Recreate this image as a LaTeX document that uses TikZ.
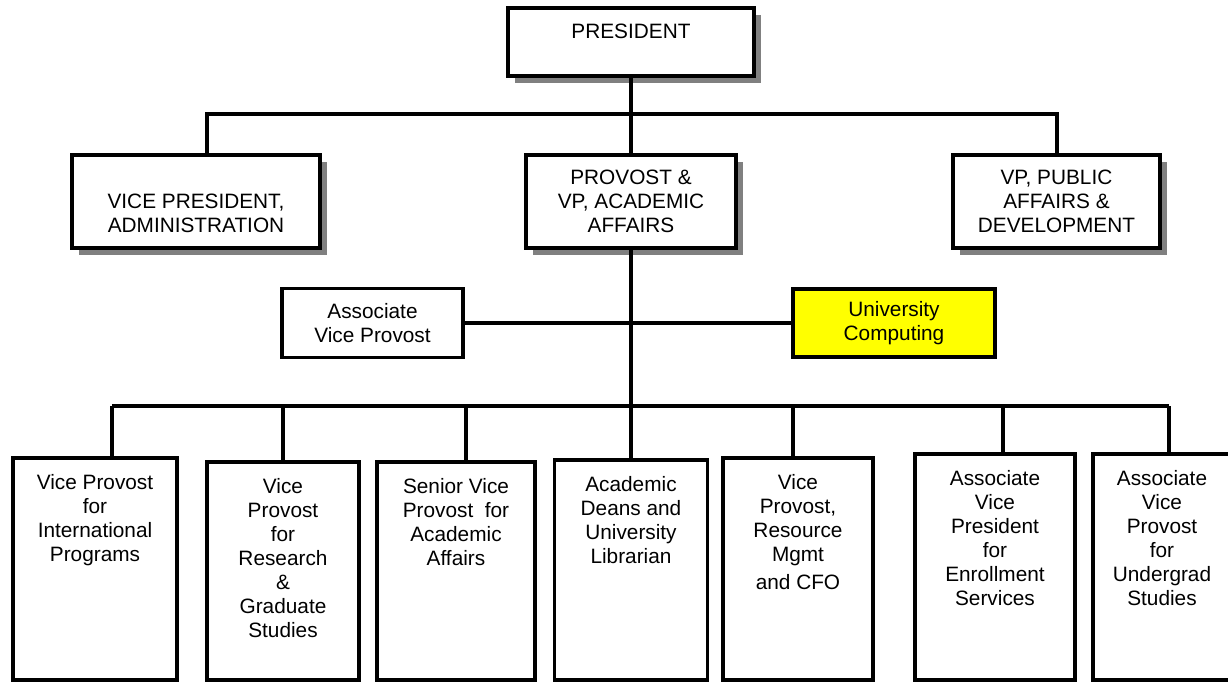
\documentclass[tikz,border=0pt]{standalone}
\usepackage{fontspec}
\setmainfont{Liberation Sans}
\usetikzlibrary{shadows}

\definecolor{shadowgray}{HTML}{808080}
\definecolor{ucyellow}{HTML}{FFFF00}
\newcommand{\orgfont}{\fontsize{10.4}{12}\selectfont}

\tikzset{
  unitbox/.style={draw, line width=1.6pt, fill=white, inner sep=0pt, align=center, font=\orgfont},
  headbox/.style={unitbox, general shadow={fill=shadowgray, shadow xshift=3.5pt, shadow yshift=-3.5pt}},
  toptext/.style={anchor=north, yshift=-9pt, inner sep=0pt, align=center, font=\orgfont},
  midtext/.style={inner sep=0pt, align=center, font=\orgfont},
  link/.style={line width=1.6pt},
}

\begin{document}
\begin{tikzpicture}[x=0.5pt, y=-0.5pt]
    \useasboundingbox (0,0) rectangle (1228,682);

    % Top level
    \node[headbox, minimum width=123pt, minimum height=34pt,
          label={[toptext, yshift=0.5pt]north:PRESIDENT}] (pres) at (631,42) {};

    % Vice presidents
    \node[headbox, minimum width=124pt, minimum height=46.5pt,
          label={[midtext, yshift=-5.75pt]center:{VICE PRESIDENT,\\ADMINISTRATION}}] (vpadm) at (196,201.5) {};
    \node[headbox, minimum width=105pt, minimum height=46.5pt] (prov) at (631,201.5) {PROVOST \&\\VP, ACADEMIC\\AFFAIRS};
    \node[headbox, minimum width=103.5pt, minimum height=46.5pt] (vppub) at (1056.5,201.5) {VP, PUBLIC\\AFFAIRS \&\\DEVELOPMENT};

    % Staff level
    \node[unitbox, minimum width=90.5pt, minimum height=34.5pt] (avp) at (372.5,323) {Associate\\Vice Provost};
    \node[unitbox, fill=ucyellow, minimum width=101pt, minimum height=34pt] (uc) at (894,323) {University\\Computing};

    % Units reporting to the provost
    \node[unitbox, minimum width=82pt, minimum height=111pt,
          label={[toptext]north:{Vice Provost\\for\\International\\Programs}}] (intl) at (95,569) {};
    \node[unitbox, minimum width=76pt, minimum height=109pt,
          label={[toptext]north:{Vice\\Provost\\for\\Research\\\&\\Graduate\\Studies}}] (resgrad) at (283,571) {};
    \node[unitbox, minimum width=79pt, minimum height=109pt,
          label={[toptext]north:{Senior Vice\\Provost~ for\\Academic\\Affairs}}] (senior) at (456,571) {};
    \node[unitbox, minimum width=76.5pt, minimum height=110pt,
          label={[toptext]north:{Academic\\Deans and\\University\\Librarian}}] (deans) at (631,570) {};
    \node[unitbox, minimum width=75pt, minimum height=111pt,
          label={[toptext]north:{Vice\\Provost,\\Resource\\Mgmt\\[2pt]and CFO}}] (resmgmt) at (798,569) {};
    \node[unitbox, minimum width=80pt, minimum height=113pt,
          label={[toptext]north:{Associate\\Vice\\President\\for\\Enrollment\\Services}}] (enroll) at (995,567) {};
    \node[unitbox, minimum width=69pt, minimum height=113pt,
          label={[toptext]north:{Associate\\Vice\\Provost\\for\\Undergrad\\Studies}}] (ugrad) at (1162,567) {};

    % Bars
    \coordinate (t1) at (207,114);
    \coordinate (t2) at (1057,114);
    \coordinate (b1) at (112,406);
    \coordinate (b2) at (283,406);
    \coordinate (b3) at (466,406);
    \coordinate (b5) at (793,406);
    \coordinate (b6) at (1003,406);
    \coordinate (b7) at (1169,406);

    % Connectors, top
    \draw[link] (pres.south) -- (prov.north);
    \draw[link] (t1 |- vpadm.north) -- (t1) -- (t2) -- (t2 |- vppub.north);

    % Connectors, provost
    \draw[link] (prov.south) -- (deans.north);
    \draw[link] (avp) -- (uc);
    \draw[link] (b1) -- (b7);
    \draw[link] (b1) -- (b1 |- intl.north);
    \draw[link] (b2) -- (b2 |- resgrad.north);
    \draw[link] (b3) -- (b3 |- senior.north);
    \draw[link] (b5) -- (b5 |- resmgmt.north);
    \draw[link] (b6) -- (b6 |- enroll.north);
    \draw[link] (b7) -- (b7 |- ugrad.north);

\end{tikzpicture}
\end{document}
